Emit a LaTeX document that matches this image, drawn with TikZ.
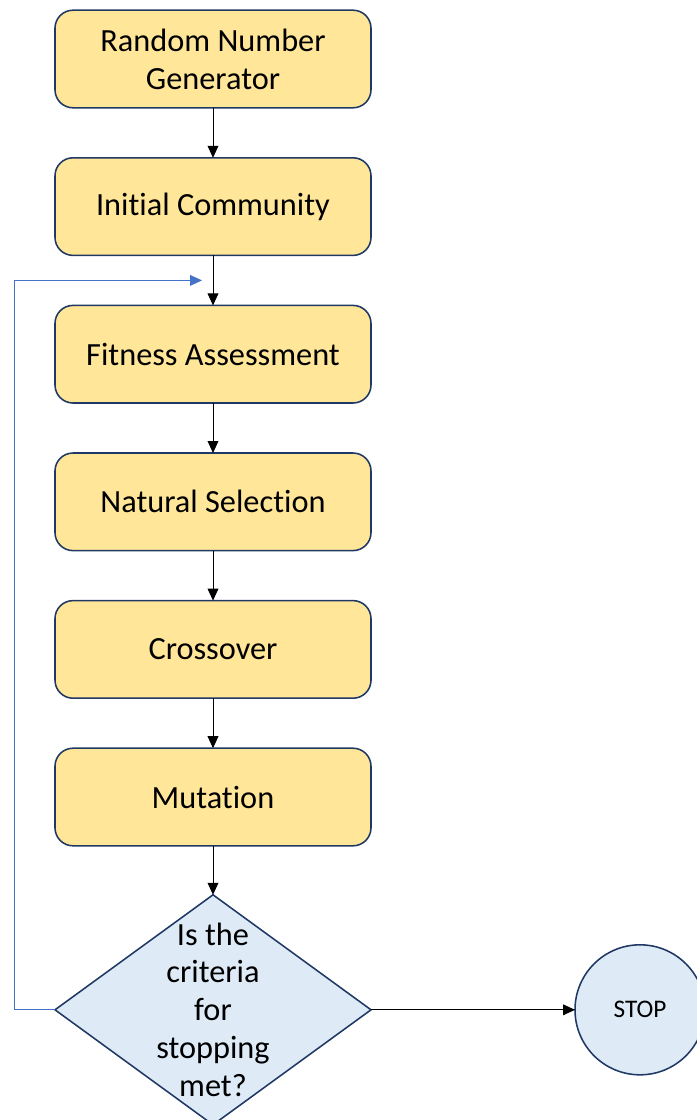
\documentclass[tikz,border=0pt]{standalone}
\usepackage{fontspec}
\setmainfont[Ligatures=NoCommon]{Carlito}
\usepackage{tikz}
\usetikzlibrary{arrows.meta,calc,shapes.geometric,positioning}
\definecolor{boxfill}{HTML}{FFE699}
\definecolor{boxline}{HTML}{1F3864}
\definecolor{decfill}{HTML}{DEEBF7}
\definecolor{loopblue}{HTML}{4472C4}
\tikzstyle{process} = [rectangle, rounded corners=0.45cm, minimum width=7.9cm, minimum height=2.44cm, outer sep=0pt, text centered, align=center, draw=boxline, fill=boxfill, line width=1.1pt, font=\fontsize{23}{27}\selectfont]
\tikzstyle{decision} = [diamond, minimum width=7.9cm, minimum height=5.75cm, inner sep=0pt, outer sep=0pt, draw=boxline, fill=decfill, line width=1.1pt]
\tikzstyle{stopper} = [circle, minimum size=3.25cm, outer sep=0pt, draw=boxline, fill=decfill, line width=1.1pt, font=\fontsize{18}{21}\selectfont]
\tikzstyle{flow} = [-{Triangle[length=0.3cm,width=0.27cm]}, line width=0.6pt]

\begin{document}
\begin{tikzpicture}[node distance=1.25cm]
			\useasboundingbox (0,0) rectangle (17.4,-28);
			\node[process] (rng) at (5.325,-1.475) {Random Number\\Generator};
			
			\node[process, below=of rng] (init) {Initial Community};
			\node[process, below=of init] (fit) {Fitness Assessment};
			\node[process, below=of fit] (sel) {Natural Selection};
			\node[process, below=of sel] (cross) {Crossover};
			\node[process, below=of cross] (mut) {Mutation};
			\node[decision, below=1.225cm of mut, label={[font=\fontsize{23}{27}\selectfont, align=center]center:Is the\\criteria\\for\\stopping\\met?}] (stopq) {};
			\node[stopper, right=5.1cm of stopq] (stop) {STOP};
			\coordinate (loopend) at ($(init.south)!0.5!(fit.north)+(-0.275,0)$);
			
			%arrow
			\draw [flow] (rng) -- (init);
			\draw [flow] (init) -- (fit);
			\draw [flow] (fit) -- (sel);
			\draw [flow] (sel) -- (cross);
			\draw [flow] (cross) -- (mut);
			\draw [flow] (mut) -- (stopq);
			\draw [flow] (stopq) -- (stop);
			\draw [flow, draw=loopblue] (stopq.west) -- ++(-1.025,0) |- (loopend);
			
			%
		\end{tikzpicture}
\end{document}
